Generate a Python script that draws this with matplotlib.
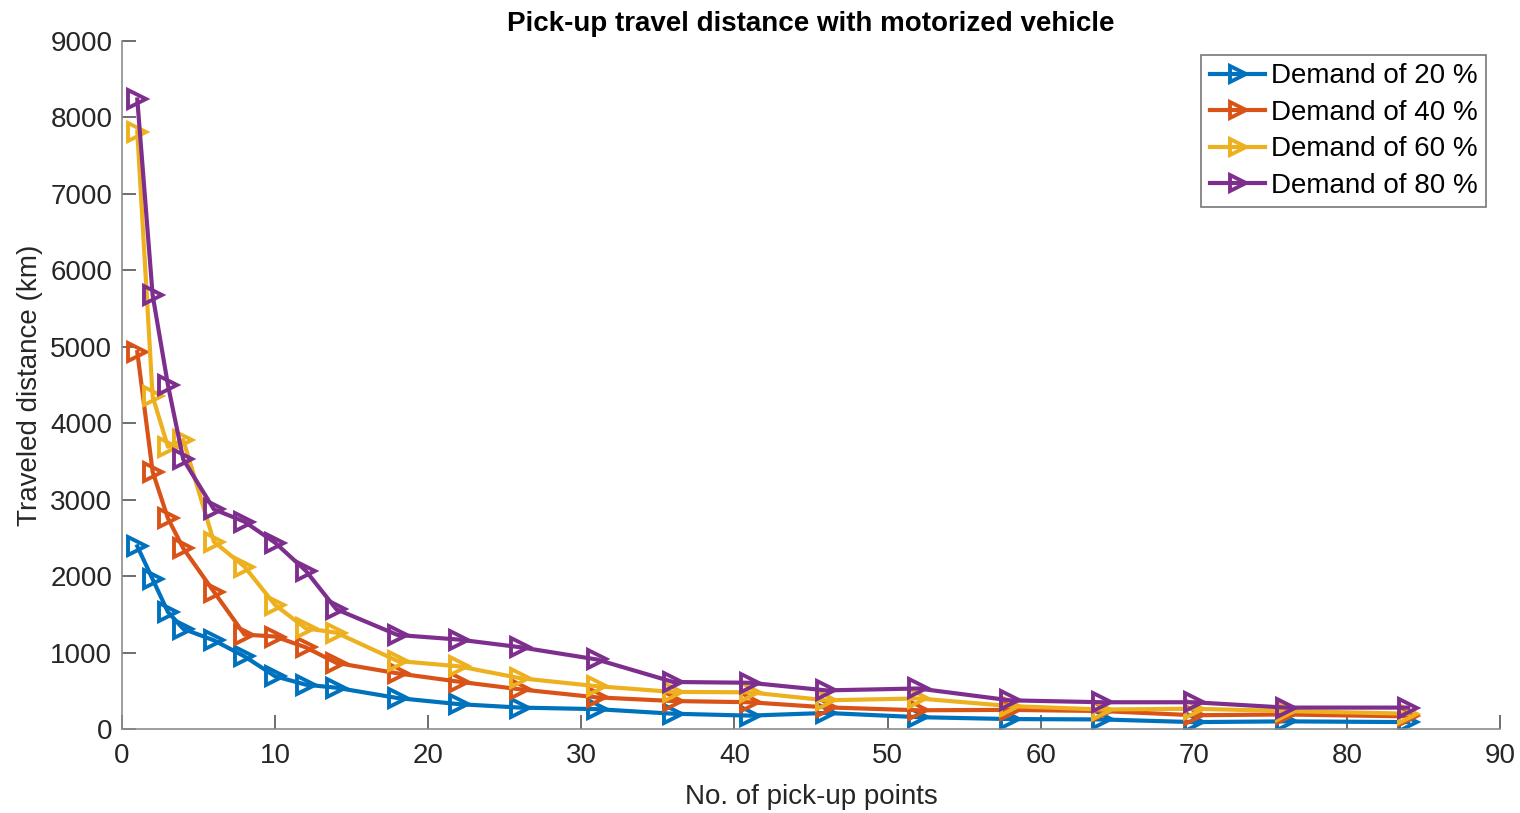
import matplotlib
matplotlib.use("Agg")
import matplotlib.pyplot as plt

plt.rcParams['font.family'] = ['Liberation Sans', 'DejaVu Sans']

pickup_points = [1, 2, 3, 4, 6, 8, 10, 12, 14, 18, 22, 26, 31, 36, 41, 46, 52, 58, 64, 70, 76, 84]

demand_20 = [2390, 1960, 1530, 1310, 1160, 950, 690, 580, 540, 405, 325, 280, 260, 200, 175, 210, 155, 130, 125, 90, 100, 90]
demand_40 = [4930, 3366, 2756, 2364, 1796, 1235, 1210, 1068, 865, 728, 619, 519, 414, 366, 350, 283, 245, 250, 235, 180, 190, 165]
demand_60 = [7815, 4350, 3693, 3781, 2451, 2124, 1622, 1317, 1260, 890, 820, 665, 560, 485, 480, 375, 400, 300, 255, 265, 235, 200]
demand_80 = [8235, 5678, 4500, 3528, 2874, 2712, 2437, 2071, 1566, 1230, 1170, 1070, 910, 615, 605, 505, 530, 375, 350, 350, 280, 280]

series = [demand_20, demand_40, demand_60, demand_80]
labels = ['Demand of 20 %', 'Demand of 40 %', 'Demand of 60 %', 'Demand of 80 %']
colors = ['#0072BD', '#D95319', '#EDB120', '#7E2F8E']

fig = plt.figure(figsize=(15.2, 8.13), dpi=100)
ax = fig.add_axes([122 / 1520, 1 - 729 / 813, (1500 - 122) / 1520, (729 - 41) / 813])

for vals, lab, col in zip(series, labels, colors):
    ax.plot(pickup_points, vals, color=col, lw=3.0, marker='>', markersize=13,
            markerfacecolor='none', markeredgewidth=2.8, label=lab)

ax.set_xlim(0, 90)
ax.set_ylim(0, 9000)
ax.set_xticks(range(0, 91, 10))
ax.set_yticks(range(0, 9001, 1000))

axis_col = '#262626'
for side in ['top', 'right']:
    ax.spines[side].set_visible(False)
for side in ['left', 'bottom']:
    ax.spines[side].set_color('#8c8c8c')
    ax.spines[side].set_linewidth(1.2)
ax.tick_params(direction='in', length=10, width=1.2, color='#555555',
               labelsize=20, labelcolor=axis_col)
ax.tick_params(axis='x', pad=10)
ax.tick_params(axis='y', pad=7)

ax.set_xlabel('No. of pick-up points', fontsize=20, color=axis_col, labelpad=11)
ax.set_ylabel('Traveled distance (km)', fontsize=20, color=axis_col, labelpad=5)
ax.set_title('Pick-up travel distance with motorized vehicle', fontsize=20,
             fontweight='bold', color='black', pad=7)

leg = ax.legend(loc='upper right',
                bbox_to_anchor=((1486 - 122) / 1378, 1 - (55 - 41) / 688),
                fontsize=20, frameon=True, fancybox=False, borderpad=0.3,
                labelspacing=0.38, handlelength=2.0, handletextpad=0.2, borderaxespad=0)
leg.get_frame().set_edgecolor('#555555')
leg.get_frame().set_linewidth(1.2)
for line in leg.get_lines():
    line.set_markersize(11)

fig.savefig('out.png', dpi=100)
